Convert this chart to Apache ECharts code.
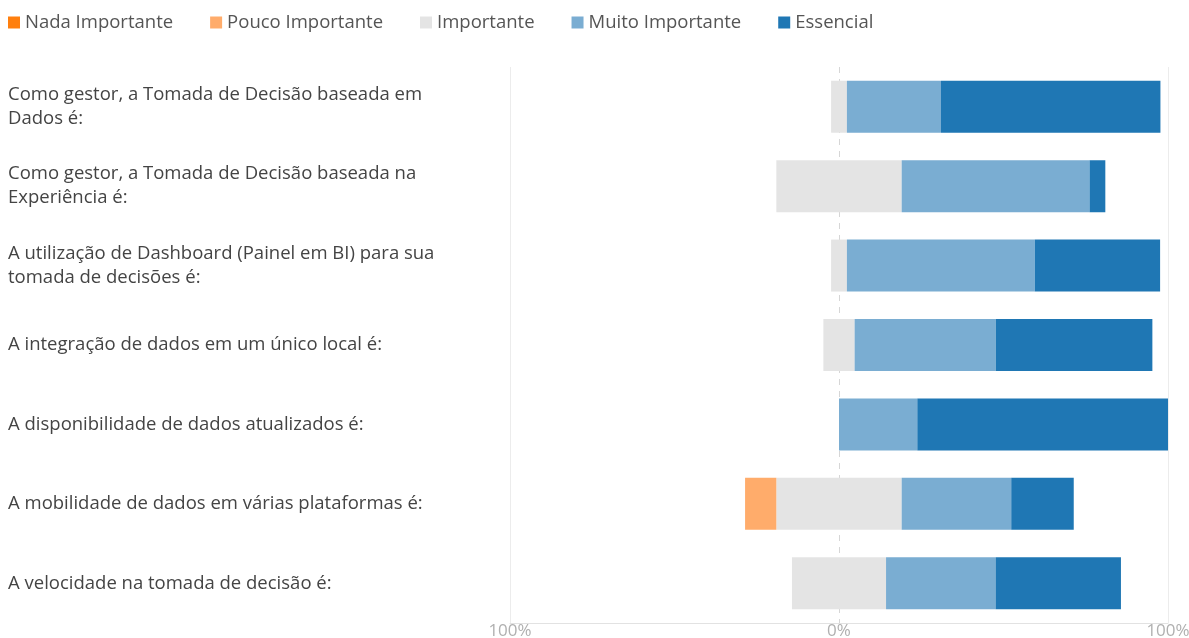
<!DOCTYPE html>
<html>
<head>
<meta charset="utf-8">
<script src="https://cdn.jsdelivr.net/npm/echarts@6/dist/echarts.min.js"></script>
<style>
  html, body { margin: 0; padding: 0; background: #fff; }
  #chart { width: 1189px; height: 638px; }
</style>
</head>
<body>
<div id="chart"></div>
<script>
const categories = [
  "Como gestor, a Tomada de Decisão baseada em\nDados é:",
  "Como gestor, a Tomada de Decisão baseada na\nExperiência é:",
  "A utilização de Dashboard (Painel em BI) para sua\ntomada de decisões é:",
  "A integração de dados em um único local é:",
  "A disponibilidade de dados atualizados é:",
  "A mobilidade de dados em várias plataformas é:",
  "A velocidade na tomada de decisão é:"
];

// percentuais por categoria
const nadaImportante = [0, 0, 0, 0, 0, 0, 0];
const poucoImportante = [0, 0, 0, 0, 0, 9.5, 0];
const importante = [4.8, 38.1, 4.8, 9.5, 0, 38.1, 28.6];
const muitoImportante = [28.6, 57.1, 57.1, 42.9, 23.8, 33.3, 33.3];
const essencial = [66.7, 4.8, 38.1, 47.6, 76.2, 19.0, 38.1];

const xTicks = [-100, 0, 100];

const colors = {
  nada: "#ff7f0e",
  pouco: "#ffac6b",
  imp: "#e4e4e4",
  muito: "#7aadd2",
  ess: "#1f77b4",
};

const FONT = "'Open Sans', 'Noto Sans', sans-serif";
const BAR_W = 52;

const barSeries = (name, data, color) => ({
  name: name,
  type: "bar",
  stack: "total",
  barWidth: BAR_W,
  data: data,
  itemStyle: { color: color },
  emphasis: { disabled: true },
});

const chart = echarts.init(document.getElementById("chart"));

chart.setOption({
  animation: false,
  textStyle: { fontFamily: FONT },
  legend: {
    data: ["Nada Importante", "Pouco Importante", "Importante", "Muito Importante", "Essencial"],
    left: 3,
    top: 8,
    icon: "rect",
    itemWidth: 12,
    itemHeight: 12,
    itemGap: 37,
    textStyle: { fontSize: 18.5, color: "#555", fontFamily: FONT },
  },
  grid: {
    left: 510,
    right: 21,
    top: 67,
    bottom: 15,
    outerBoundsMode: "none",
  },
  xAxis: [
    {
      type: "value",
      min: xTicks[0],
      max: xTicks[2],
      interval: 100,
      axisLine: { show: true, lineStyle: { color: "#e2e2e2" } },
      axisTick: { show: false },
      axisLabel: {
        color: "#b0b0b0",
        fontSize: 17,
        margin: 0,
        formatter: (v) => Math.abs(v) + "%",
      },
      splitLine: {
        show: true,
        lineStyle: { color: ["#ececec", "transparent", "#ececec"], width: 1 },
      },
    },
    {
      type: "value",
      position: "top",
      min: xTicks[0],
      max: xTicks[2],
      interval: 100,
      axisLine: { show: false },
      axisTick: { show: false },
      axisLabel: { show: false },
      splitLine: {
        show: true,
        lineStyle: { color: ["transparent", "#d6d6d6", "transparent"], type: [6, 6], width: 1 },
      },
    },
  ],
  yAxis: {
    type: "category",
    inverse: true,
    data: categories,
    axisLine: { show: false },
    axisTick: { show: false },
    axisLabel: {
      align: "left",
      margin: 502,
      color: "#444",
      fontSize: 18.5,
      lineHeight: 24,
      fontFamily: FONT,
    },
  },
  series: [
    // lado negativo: a primeira série fica junto ao zero
    barSeries("Importante", importante.map((v) => -v / 2), colors.imp),
    barSeries("Pouco Importante", poucoImportante.map((v) => -v), colors.pouco),
    barSeries("Nada Importante", nadaImportante.map((v) => -v), colors.nada),
    // lado positivo
    barSeries("Importante", importante.map((v) => v / 2), colors.imp),
    barSeries("Muito Importante", muitoImportante, colors.muito),
    barSeries("Essencial", essencial, colors.ess),
  ],
});

window.addEventListener("resize", () => chart.resize());
</script>
</body>
</html>
